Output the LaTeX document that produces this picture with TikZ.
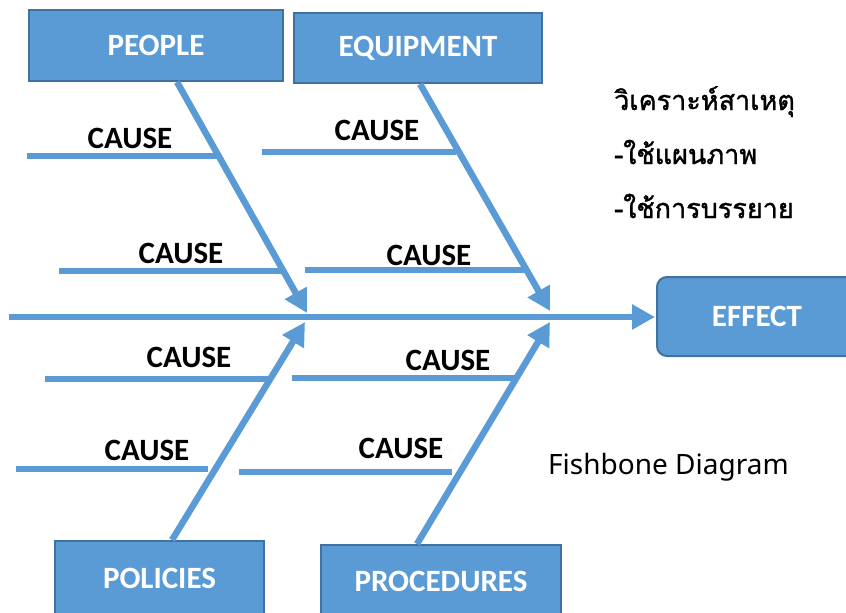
\documentclass[tikz,border=0pt]{standalone}
\usepackage{fontspec}
\setmainfont{Carlito}
\newfontfamily\thaifont[Script=Thai,FakeBold=1.3]{Loma}
\newfontfamily\notosans{Noto Sans}
\usetikzlibrary{arrows.meta,calc}
\definecolor{boxblue}{HTML}{5B9BD5}
\definecolor{boxedge}{HTML}{41719C}
\tikzset{
  catbox/.style={draw=boxedge, line width=2pt, fill=boxblue, text=white, font=\fontsize{31}{31}\selectfont\bfseries, inner sep=0pt},
  bone/.style={draw=boxblue, line width=6.5pt},
  bonearrow/.style={bone, -{Triangle[length=23pt,width=24pt]}},
  causetext/.style={font=\fontsize{31}{31}\selectfont\bfseries, text=black, inner sep=0pt},
  thaitext/.style={anchor=base west, inner sep=0pt, font=\thaifont\fontsize{27}{27}\selectfont},
}
\begin{document}
\begin{tikzpicture}[x=1pt,y=-1pt]
\useasboundingbox (0,0) rectangle (846,613);
% category boxes
\node[catbox, minimum width=254pt, minimum height=71pt] (people) at (156,45.5) {PEOPLE};
\node[catbox, minimum width=248pt, minimum height=70pt] (equip) at (418,48) {EQUIPMENT};
\node[catbox, minimum width=209pt, minimum height=74pt] (policies) at (159.5,578) {POLICIES};
\node[catbox, minimum width=240pt, minimum height=72pt] (proc) at (441,581) {PROCEDURES};
\node[catbox, rounded corners=10pt, minimum width=200pt, minimum height=79pt] (effect) at (757,316.5) {EFFECT};
% spine
\coordinate (tail) at (9,317);
\coordinate (j1) at (307,313);
\coordinate (j2) at (550,311);
\coordinate (j3) at (305,322);
\coordinate (j4) at (550,322);
\draw[bonearrow, shorten >=1pt] (tail) -- (effect.west |- tail);
% main bones
\draw[bonearrow] ($(people.south)+(21,0)$) -- (j1);
\draw[bonearrow] ($(equip.south)+(2,0)$) -- (j2);
\draw[bonearrow] ($(policies.north)+(12.5,0)$) -- (j3);
\draw[bonearrow] ($(proc.north)+(-24,0)$) -- (j4);
% cause lines
\coordinate (a1) at (27,156);  \coordinate (b1) at (217,156);
\coordinate (a2) at (59,271);  \coordinate (b2) at (284,271);
\coordinate (a3) at (262,152); \coordinate (b3) at (456,152);
\coordinate (a4) at (305,270); \coordinate (b4) at (526,270);
\coordinate (a5) at (45,379);  \coordinate (b5) at (268,379);
\coordinate (a6) at (16,469);  \coordinate (b6) at (208,469);
\coordinate (a7) at (292,378); \coordinate (b7) at (516,378);
\coordinate (a8) at (239,472); \coordinate (b8) at (452,472);
\foreach \i in {1,...,8} { \draw[bone] (a\i) -- (b\i); }
\node[causetext] (t1) at (130,138) {CAUSE};
\node[causetext] (t2) at (181,253) {CAUSE};
\node[causetext] (t3) at (377,130) {CAUSE};
\node[causetext] (t4) at (429,255) {CAUSE};
\node[causetext] (t5) at (189,357) {CAUSE};
\node[causetext] (t6) at (147,450) {CAUSE};
\node[causetext] (t7) at (448,360) {CAUSE};
\node[causetext] (t8) at (401,448) {CAUSE};
% side texts
\node[thaitext] (th1) at (614,110) {วิเคราะห์สาเหตุ};
\node[thaitext] (th2) at (614,164) {-ใช้แผนภาพ};
\node[thaitext] (th3) at (614,218) {-ใช้การบรรยาย};
\node[anchor=base west, inner sep=0pt, font=\notosans\fontsize{28}{28}\selectfont] (fish) at (548,474) {Fishbone Diagram};
\end{tikzpicture}
\end{document}
